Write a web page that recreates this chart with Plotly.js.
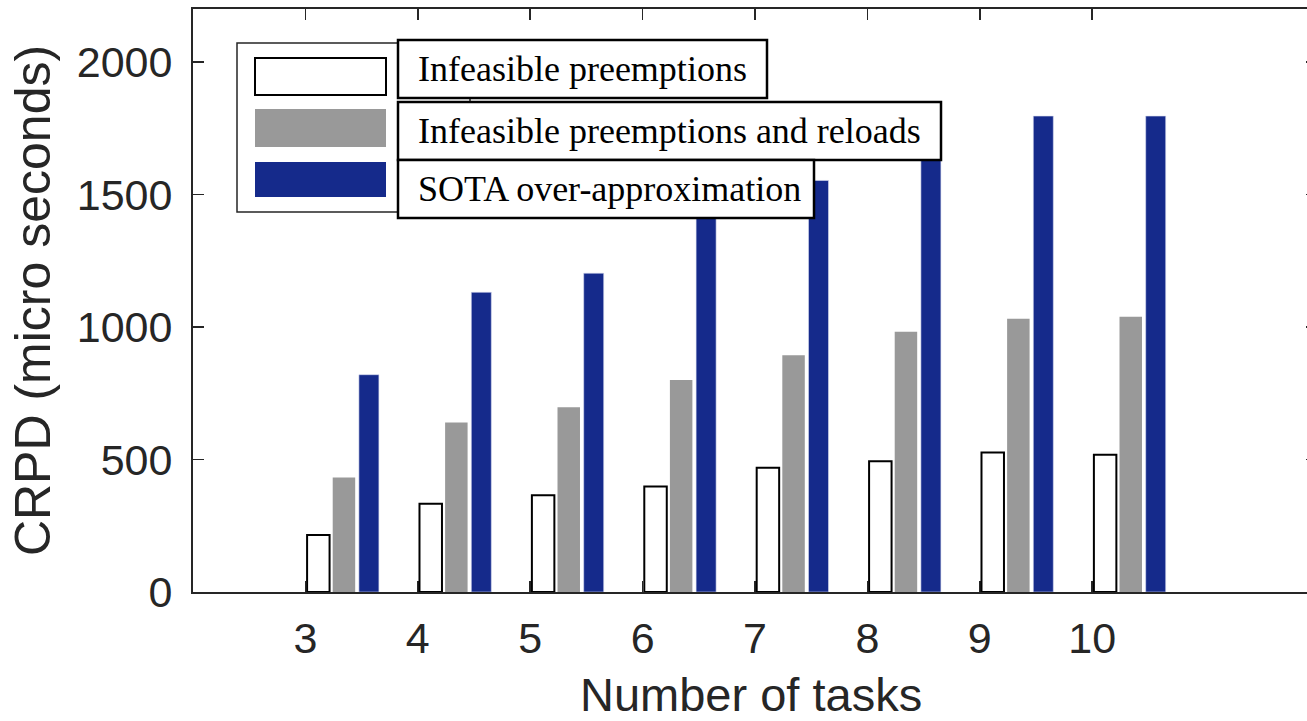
<!DOCTYPE html>
<html>
<head>
<meta charset="utf-8">
<script src="https://cdn.plot.ly/plotly-3.0.1.min.js"></script>
<style>
html,body{margin:0;padding:0;overflow:hidden;background:#fff;}
#chart{width:1317px;height:721px;}
</style>
</head>
<body>
<div id="chart"></div>
<script>
// ---- data ----
const tasks = [3, 4, 5, 6, 7, 8, 9, 10];
const infeasiblePreemptions = [215, 333, 365, 398, 469, 493, 526, 518];
const infeasiblePreemptionsReloads = [432, 640, 697, 800, 893, 982, 1031, 1039];
const sotaOverApprox = [820, 1131, 1203, 1450, 1553, 1690, 1796, 1796];
const seriesNames = ["Infeasible preemptions", "Infeasible preemptions and reloads", "SOTA over-approximation"];
const yTicks = [0, 500, 1000, 1500, 2000];
const xTitle = "Number of tasks";
const yTitle = "CRPD (micro seconds)";

// ---- styling ----
const W = 1317, H = 721;
const M = {l: 193, r: 0, t: 9, b: 129};
const axisColor = "#262626";
const blue = "#152a8b";
const gray = "#999999";
const sansFont = "Liberation Sans, Arial, Helvetica, sans-serif";
const serifFont = "Liberation Serif, Times New Roman, serif";

const traces = [
  {type: "bar", x: tasks, y: infeasiblePreemptions, name: seriesNames[0],
   offset: 0.015, width: 0.2,
   marker: {color: "#ffffff", line: {color: "#000000", width: 2}}},
  {type: "bar", x: tasks, y: infeasiblePreemptionsReloads, name: seriesNames[1],
   offset: 0.243, width: 0.2,
   marker: {color: gray, line: {width: 0}}},
  {type: "bar", x: tasks, y: sotaOverApprox, name: seriesNames[2],
   offset: 0.476, width: 0.178,
   marker: {color: blue, line: {color: "#d8dcf0", width: 0.6}}}
];

// pixel -> paper helpers for the hand-drawn legend
const pw = W - M.l - M.r, ph = H - M.t - M.b;
const px = v => (v - M.l) / pw;
const py = v => (H - M.b - v) / ph;
function rect(x0, y0, x1, y1, fill, lineColor, lw) {
  return {type: "rect", xref: "paper", yref: "paper", layer: "above",
    x0: px(x0), x1: px(x1), y0: py(y1), y1: py(y0),
    fillcolor: fill, line: {color: lineColor, width: lw}};
}
const shapes = [
  rect(237, 43, 470, 212, "#ffffff", axisColor, 1.5),
  rect(255, 58, 386, 95, "#ffffff", "#000000", 2),
  rect(255, 109, 386, 147, gray, gray, 0),
  rect(255, 162, 386, 197, blue, blue, 0),
  rect(398, 40, 767, 98, "#ffffff", "#000000", 2.5),
  rect(398, 102, 941, 160, "#ffffff", "#000000", 2.5),
  rect(398, 160, 814, 218, "#ffffff", "#000000", 2.5)
];
const legendYs = [69, 131, 189];
const annotations = seriesNames.map((t, i) => ({
  xref: "paper", yref: "paper", x: px(416), y: py(legendYs[i]),
  xanchor: "left", yanchor: "middle", showarrow: false, text: t,
  font: {family: serifFont, size: 36, color: "#000000"}
}));
annotations.push({
  xref: "paper", yref: "paper", x: px(751), y: py(694),
  xanchor: "center", yanchor: "middle", showarrow: false, text: xTitle,
  borderpad: 0,
  font: {family: sansFont, size: 47, color: axisColor}
});

const layout = {
  width: W, height: H,
  margin: M,
  paper_bgcolor: "#ffffff", plot_bgcolor: "#ffffff",
  barmode: "overlay",
  showlegend: false,
  font: {family: sansFont, color: axisColor},
  xaxis: {
    range: [2, 12], tickmode: "array", tickvals: tasks, ticktext: tasks.map(String),
    ticks: "inside", ticklen: 11, tickwidth: 1.5, tickcolor: axisColor,
    showline: true, linecolor: axisColor, linewidth: 2, mirror: "ticks",
    showgrid: false, zeroline: false, layer: "below traces",
    tickfont: {family: sansFont, size: 43, color: axisColor},
    ticklabelstandoff: 7
  },
  yaxis: {
    range: [0, 2200], tickmode: "array", tickvals: yTicks, ticktext: yTicks.map(String),
    ticks: "inside", ticklen: 11, tickwidth: 1.5, tickcolor: axisColor,
    showline: true, linecolor: axisColor, linewidth: 2, mirror: "ticks",
    showgrid: false, zeroline: false,
    tickfont: {family: sansFont, size: 43, color: axisColor},
    ticklabelstandoff: 10,
    title: {text: yTitle, font: {family: sansFont, size: 50, color: axisColor}, standoff: 10}
  },
  shapes: shapes,
  annotations: annotations
};

Plotly.newPlot("chart", traces, layout, {displayModeBar: false, staticPlot: true});
</script>
</body>
</html>
